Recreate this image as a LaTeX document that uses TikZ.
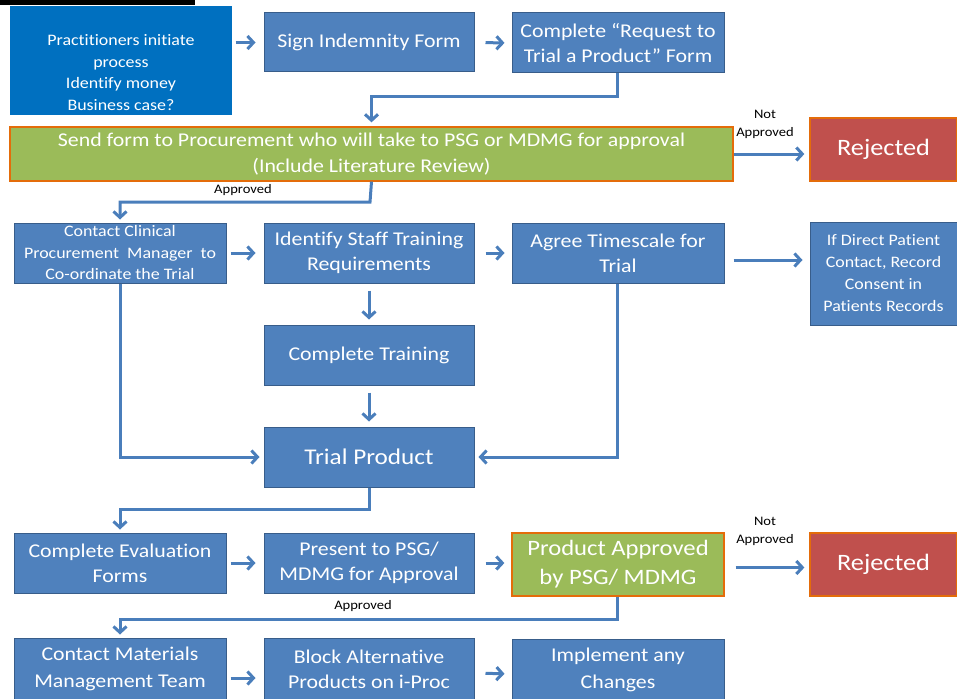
\documentclass[tikz,border=0pt]{standalone}
\usepackage{fontspec}
\setmainfont{Carlito}[FakeStretch=1.12,Ligatures=NoCommon]
\usetikzlibrary{arrows.meta}
\definecolor{boxblue}{HTML}{4F81BD}
\definecolor{boxedge}{HTML}{385D8A}
\definecolor{darkblue}{HTML}{0070C0}
\definecolor{boxgreen}{HTML}{9BBB59}
\definecolor{boxred}{HTML}{C0504D}
\definecolor{edgeorange}{HTML}{E46C0A}
\definecolor{arrblue}{HTML}{4A7EBB}
\begin{document}
\begin{tikzpicture}[x=1pt,y=-1pt,
  base/.style={rectangle,inner sep=0pt,align=center,text=white,line width=1pt},
  bluebox/.style={base,fill=boxblue,draw=boxedge,font=\fontsize{19.5}{25}\selectfont},
  greenbox/.style={base,fill=boxgreen,draw=edgeorange,line width=1.3pt,font=\fontsize{19.5}{26}\selectfont},
  redbox/.style={base,fill=boxred,draw=edgeorange,line width=1.3pt,font=\fontsize{23.5}{25}\selectfont},
  smalltext/.style={font=\fontsize{16}{21.5}\selectfont},
  arr/.style={draw=arrblue,line width=3pt,-{Straight Barb[length=6pt,width=13pt,line width=3pt]}},
  conn/.style={draw=arrblue,line width=3pt,-{Straight Barb[length=6pt,width=13pt,line width=3pt]}},
  lbl/.style={inner sep=0pt,text=black,font=\fontsize{13}{18}\selectfont,align=center}]
\useasboundingbox (0,0) rectangle (957,698);
\fill[black] (0,0) rectangle (195,5);
% row 1
\node[base,fill=darkblue,minimum width=222pt,minimum height=109pt] (b1) at (121,60.5) {};
\node[base,smalltext] (b1t) at (121,72.5) {Practitioners initiate\\process\\Identify money\\Business case?};
\node[bluebox,minimum width=210pt,minimum height=59pt] (b2) at (369,42.5) {Sign Indemnity Form};
\node[bluebox,minimum width=212pt,minimum height=60pt] (b3) at (618,43) {Complete “Request to\\Trial a Product” Form};
% row 2
\node[greenbox,minimum width=723pt,minimum height=54pt] (g1) at (371.5,154) {Send form to Procurement who will take to PSG or MDMG for approval\\(Include Literature Review)};
\node[redbox,minimum width=147pt,minimum height=63pt] (r1) at (883.5,149.5) {Rejected};
% row 3
\node[bluebox,minimum width=212pt,minimum height=60pt,smalltext] (c1) at (120,253) {Contact Clinical\\Procurement\ \ Manager\ \ to\\Co-ordinate the Trial};
\node[bluebox,minimum width=210pt,minimum height=60pt] (c2) at (369,253) {Identify Staff Training\\Requirements};
\node[bluebox,minimum width=212pt,minimum height=60pt] (c3) at (618,253) {Agree Timescale for\\Trial};
\node[bluebox,minimum width=147pt,minimum height=103pt,font=\fontsize{16}{22}\selectfont] (pt) at (883.5,273.5) {If Direct Patient\\Contact, Record\\Consent in\\Patients Records};
\node[bluebox,minimum width=210pt,minimum height=60pt] (tr) at (369,355) {Complete Training};
\node[bluebox,minimum width=210pt,minimum height=60pt,font=\fontsize{22.5}{25}\selectfont] (tp) at (369,457) {Trial Product};
% row 5
\node[bluebox,minimum width=212pt,minimum height=60pt] (ev) at (120,563) {Complete Evaluation\\Forms};
\node[bluebox,minimum width=210pt,minimum height=60pt] (pr) at (369,563) {Present to PSG/\\MDMG for Approval};
\node[greenbox,minimum width=212pt,minimum height=63pt,font=\fontsize{22}{29}\selectfont] (pa) at (618,564.5) {Product Approved\\by PSG/ MDMG};
\node[redbox,minimum width=147pt,minimum height=63pt] (r2) at (883.5,564.5) {Rejected};
% row 6
\node[bluebox,minimum width=212pt,minimum height=62pt,font=\fontsize{19.5}{27}\selectfont] (m1) at (120,669) {Contact Materials\\Management Team};
\node[bluebox,minimum width=210pt,minimum height=62pt] (m2) at (369,669) {Block Alternative\\Products on i-Proc};
\node[bluebox,minimum width=212pt,minimum height=62pt,font=\fontsize{19.5}{27}\selectfont] (m3) at (618,670) {Implement any\\Changes};
% helper coordinates
\coordinate (j1) at (617,97);
\coordinate (j2) at (370,202);
\coordinate (j3) at (369,509);
\coordinate (j4) at (617,619);
\coordinate (p1) at (733,260);
% labels
\node[lbl] (na1) at (765,124) {Not\\Approved};
\node[lbl] (ap1) at (243,190) {Approved};
\node[lbl] (na2) at (765,531) {Not\\Approved};
\node[lbl] (ap2) at (363,606) {Approved};
% connectors
\draw[arr,shorten <=3pt,shorten >=8pt] (b1.east |- b2.west) -- (b2.west);
\draw[arr,shorten <=11pt,shorten >=7pt] (b2.east) -- (b3.west);
\draw[conn,shorten >=4pt] ([xshift=-1pt]b3.south) -- ([xshift=-1pt]b3.south |- j1) -- (j1 -| g1.north) -- (g1.north);
\draw[arr,shorten >=5pt] (g1.east) -- (r1.west |- g1.east);
\draw[conn,shorten >=3pt] (g1.south) -- (j2) -- (j2 -| c1.north) -- (c1.north);
\draw[arr,shorten <=4pt,shorten >=8pt] (c1.east) -- (c2.west);
\draw[arr,shorten <=11pt,shorten >=7pt] (c2.east) -- (c3.west);
\draw[arr,shorten <=9pt,shorten >=7pt] (c3.east |- p1) -- (pt.west |- p1);
\draw[arr,shorten <=7pt,shorten >=5pt] (c2.south) -- (tr.north);
\draw[arr,shorten <=7pt,shorten >=5pt] (tr.south) -- (tp.north);
\draw[conn,shorten >=4pt] (c1.south) -- (c1.south |- tp.west) -- (tp.west);
\draw[conn,shorten >=4pt] ([xshift=-1pt]c3.south) -- ([xshift=-1pt]c3.south |- tp.east) -- (tp.east);
\draw[conn,shorten >=3pt] (tp.south) -- (j3) -- (j3 -| ev.north) -- (ev.north);
\draw[arr,shorten <=4pt,shorten >=8pt] (ev.east) -- (pr.west |- ev.east);
\draw[arr,shorten <=11pt,shorten >=7pt] (pr.east) -- (pa.west |- pr.east);
\draw[arr,shorten <=11pt,shorten >=5pt] ([yshift=-3pt]pa.east) -- ([yshift=-3pt]r2.west |- pa.east);
\draw[conn,shorten >=3pt] ([xshift=-1pt]pa.south) -- ([xshift=-1pt]pa.south |- j4) -- (j4 -| m1.north) -- (m1.north);
\draw[arr,shorten <=4pt,shorten >=8pt] ([yshift=-9pt]m1.east) -- ([yshift=-9pt]m2.west);
\draw[arr,shorten <=11pt,shorten >=7pt] ([yshift=-4pt]m2.east) -- ([yshift=-4pt]m3.west);
\end{tikzpicture}
\end{document}
